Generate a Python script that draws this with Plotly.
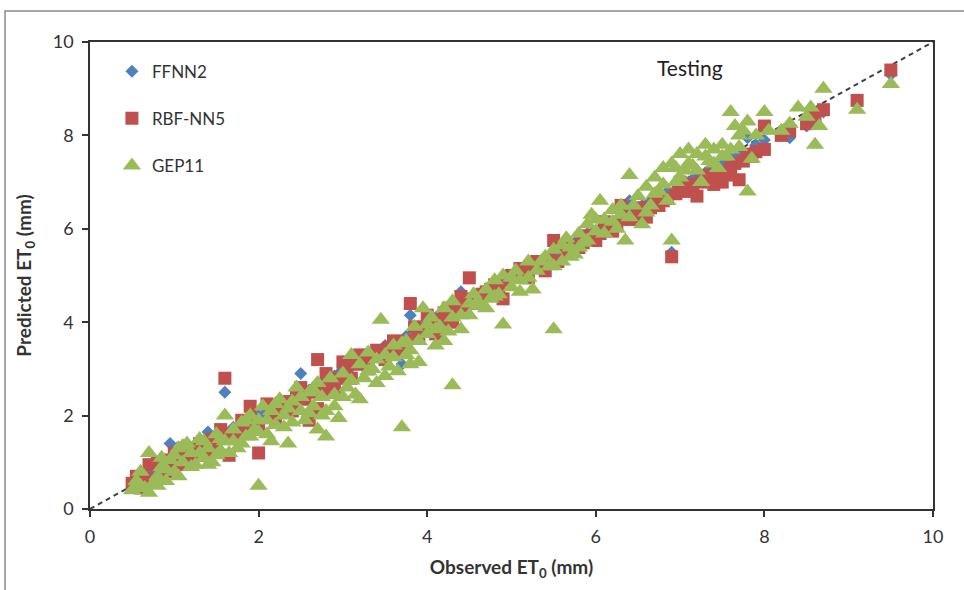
import plotly.graph_objects as go

# ---- data ----
ffnn2_obs = [0.5, 0.6, 0.7, 0.75, 0.8, 0.9, 0.95, 1.0, 1.1, 1.2, 1.3, 1.4, 1.5, 1.6, 1.7, 1.8, 1.9, 2.0,
             2.1, 2.2, 2.3, 2.4, 2.5, 2.6, 2.7, 2.8, 2.9, 3.0, 3.1, 3.2, 3.3, 3.4, 3.5, 3.6, 3.7, 3.75,
             3.8, 3.9, 4.0, 4.1, 4.2, 4.3, 4.4, 4.5, 4.6, 4.7, 4.8, 4.9, 5.0, 5.1, 5.2, 5.3, 5.4, 5.5,
             5.6, 5.7, 5.8, 5.9, 6.0, 6.1, 6.2, 6.3, 6.4, 6.5, 6.6, 6.7, 6.8, 6.9, 7.0, 7.1, 7.2, 7.3,
             7.4, 7.5, 7.6, 7.7, 7.8, 7.9, 8.0, 8.2, 8.3, 8.5, 8.6, 8.7, 9.1, 9.5,
             0.65, 0.85, 1.05, 1.15, 1.25, 1.35, 1.45, 1.55, 1.65, 1.75, 1.85, 1.95, 2.05, 2.15, 2.25,
             2.35, 2.45, 2.55, 2.65, 2.75, 2.85, 2.95, 3.05, 3.15, 3.25, 3.35, 3.45, 3.55, 3.65, 3.85,
             3.95, 4.05, 4.15, 4.25, 4.35, 4.45, 4.55, 4.65, 4.75, 4.85, 4.95, 5.05, 5.15, 5.25, 5.35,
             5.45, 5.55, 5.65, 5.75, 5.85, 5.95, 6.05, 6.15, 6.25, 6.35, 6.45, 6.55, 6.65, 6.75, 6.85,
             6.95, 7.05, 7.15, 7.25, 7.35, 7.45, 7.55, 7.65, 7.75]
ffnn2_pred = [0.55, 0.6, 0.8, 0.7, 0.9, 1.0, 1.4, 1.1, 1.2, 1.3, 1.25, 1.65, 1.5, 2.5, 1.75, 1.8, 1.9, 2.0,
              2.05, 2.2, 2.3, 2.35, 2.9, 2.55, 2.7, 2.75, 2.85, 3.0, 3.1, 3.15, 3.3, 3.35, 3.5, 3.55, 3.1, 3.7,
              4.15, 3.9, 3.95, 4.1, 4.15, 4.4, 4.65, 4.5, 4.55, 4.7, 4.75, 4.9, 5.0, 5.05, 5.2, 5.25, 5.35, 5.45,
              5.55, 5.7, 5.75, 5.9, 5.85, 6.0, 6.1, 6.25, 6.6, 6.4, 6.5, 6.6, 6.7, 5.5, 6.9, 7.0, 7.1, 7.2,
              7.3, 7.35, 7.5, 7.6, 7.95, 7.8, 7.9, 8.05, 7.95, 8.2, 8.3, 8.5, 8.7, 9.3,
              0.7, 0.85, 1.1, 1.15, 1.2, 1.35, 1.4, 1.55, 1.6, 1.7, 1.85, 1.95, 2.0, 2.1, 2.2,
              2.3, 2.4, 2.5, 2.6, 2.7, 2.8, 2.9, 3.0, 3.1, 3.2, 3.3, 3.4, 3.5, 3.6, 3.8,
              3.9, 4.0, 4.1, 4.2, 4.3, 4.4, 4.5, 4.6, 4.7, 4.8, 4.9, 5.0, 5.1, 5.2, 5.3,
              5.4, 5.5, 5.6, 5.7, 5.8, 5.9, 6.0, 6.1, 6.2, 6.3, 6.4, 6.5, 6.6, 6.7, 6.8,
              6.85, 7.0, 7.05, 7.15, 7.25, 7.35, 7.45, 7.5, 7.6]

rbf_obs = [0.5, 0.6, 0.7, 0.75, 0.8, 0.9, 1.0, 1.05, 1.1, 1.2, 1.3, 1.4, 1.5, 1.55, 1.6, 1.65, 1.7, 1.8,
           1.9, 2.0, 2.0, 2.1, 2.2, 2.3, 2.4, 2.5, 2.55, 2.6, 2.7, 2.7, 2.8, 2.85, 2.9, 3.0, 3.1, 3.2,
           3.3, 3.4, 3.5, 3.6, 3.7, 3.8, 3.85, 3.9, 4.0, 4.1, 4.2, 4.3, 4.4, 4.5, 4.6, 4.7, 4.8, 4.9,
           5.0, 5.1, 5.2, 5.3, 5.4, 5.5, 5.55, 5.6, 5.7, 5.8, 5.9, 6.0, 6.1, 6.2, 6.3, 6.4, 6.5, 6.6,
           6.7, 6.8, 6.9, 6.95, 7.0, 7.1, 7.2, 7.3, 7.4, 7.5, 7.6, 7.7, 7.8, 7.9, 8.0, 8.0, 8.2, 8.3,
           8.5, 8.6, 8.7, 9.1, 9.5,
           0.55, 0.65, 0.85, 0.95, 1.15, 1.25, 1.35, 1.45, 1.75, 1.85, 1.95, 2.15, 2.25, 2.35, 2.45,
           2.65, 2.75, 2.95, 3.05, 3.15, 3.25, 3.35, 3.45, 3.55, 3.65, 3.75, 3.95, 4.05, 4.15, 4.25,
           4.35, 4.45, 4.55, 4.65, 4.75, 4.85, 4.95, 5.05, 5.15, 5.25, 5.35, 5.45, 5.65, 5.75, 5.85,
           5.95, 6.05, 6.15, 6.25, 6.35, 6.45, 6.55, 6.65, 6.75, 6.85, 7.05, 7.15, 7.25, 7.35, 7.45,
           7.55, 7.65, 7.75, 7.85]
rbf_pred = [0.55, 0.45, 0.95, 0.65, 1.0, 0.8, 1.2, 0.95, 1.3, 1.1, 1.4, 1.2, 1.35, 1.7, 2.8, 1.15, 1.6, 1.9,
            2.2, 1.2, 1.75, 2.25, 1.9, 2.3, 2.1, 2.6, 2.35, 1.9, 3.2, 2.15, 2.9, 2.5, 2.6, 3.15, 2.8, 3.3,
            3.0, 3.4, 3.2, 3.6, 3.35, 4.4, 3.9, 3.7, 4.15, 3.75, 4.2, 4.0, 4.55, 4.95, 4.4, 4.65, 4.8, 4.5,
            5.0, 5.15, 4.95, 5.3, 5.1, 5.75, 5.3, 5.6, 5.55, 5.6, 5.85, 5.75, 6.15, 5.95, 6.5, 6.2, 6.3, 6.25,
            6.55, 6.6, 5.4, 6.75, 7.0, 6.8, 6.7, 7.1, 6.95, 7.0, 7.3, 7.05, 7.6, 7.65, 7.7, 8.2, 8.0, 8.1,
            8.25, 8.4, 8.55, 8.75, 9.4,
            0.7, 0.6, 0.75, 1.05, 1.05, 1.3, 1.15, 1.5, 1.55, 1.7, 1.9, 2.05, 2.1, 2.25, 2.4,
            2.5, 2.65, 2.8, 2.95, 3.1, 3.15, 3.3, 3.3, 3.45, 3.5, 3.6, 3.85, 3.95, 4.05, 4.3,
            4.25, 4.35, 4.5, 4.6, 4.7, 4.75, 4.9, 5.0, 5.05, 5.2, 5.2, 5.35, 5.5, 5.65, 5.7,
            5.85, 5.9, 6.05, 6.1, 6.25, 6.25, 6.45, 6.45, 6.5, 6.65, 6.85, 6.95, 7.0, 7.15, 7.2,
            7.15, 7.4, 7.45, 7.55]

gep_obs = [0.5, 0.55, 0.6, 0.7, 0.7, 0.75, 0.8, 0.85, 0.9, 0.95, 1.0, 1.05, 1.1, 1.15, 1.2, 1.25, 1.3, 1.35,
           1.4, 1.45, 1.5, 1.55, 1.6, 1.6, 1.7, 1.75, 1.8, 1.85, 1.9, 1.95, 2.0, 2.0, 2.05, 2.1, 2.15, 2.2,
           2.25, 2.3, 2.35, 2.4, 2.45, 2.5, 2.55, 2.6, 2.65, 2.7, 2.7, 2.75, 2.8, 2.8, 2.85, 2.9, 2.95, 3.0,
           3.05, 3.1, 3.15, 3.2, 3.25, 3.3, 3.35, 3.4, 3.45, 3.5, 3.55, 3.6, 3.65, 3.7, 3.7, 3.75, 3.8, 3.85,
           3.9, 3.95, 4.0, 4.05, 4.1, 4.15, 4.2, 4.25, 4.3, 4.3, 4.4, 4.5, 4.55, 4.6, 4.7, 4.75, 4.8, 4.85,
           4.9, 4.9, 5.0, 5.05, 5.1, 5.2, 5.25, 5.3, 5.4, 5.45, 5.5, 5.5, 5.6, 5.65, 5.7, 5.75, 5.8, 5.85,
           5.9, 5.95, 6.0, 6.05, 6.1, 6.2, 6.25, 6.3, 6.35, 6.4, 6.4, 6.5, 6.55, 6.6, 6.65, 6.7, 6.75, 6.8,
           6.85, 6.9, 6.9, 6.95, 7.0, 7.05, 7.1, 7.15, 7.2, 7.25, 7.3, 7.35, 7.4, 7.45, 7.5, 7.55, 7.6, 7.65,
           7.7, 7.75, 7.8, 7.8, 7.85, 8.0, 8.05, 8.2, 8.3, 8.4, 8.5, 8.55, 8.6, 8.65, 8.7, 9.1, 9.5,
           0.6, 0.65, 0.8, 0.85, 0.9, 1.0, 1.05, 1.1, 1.2, 1.3, 1.35, 1.4, 1.5, 1.55, 1.65, 1.7, 1.8, 1.85,
           1.9, 2.0, 2.1, 2.15, 2.2, 2.3, 2.35, 2.4, 2.5, 2.6, 2.65, 2.75, 2.9, 3.0, 3.1, 3.2, 3.3, 3.4,
           3.5, 3.6, 3.75, 3.8, 3.9, 4.0, 4.1, 4.2, 4.3, 4.4, 4.5, 4.6, 4.7, 4.8, 5.0, 5.1, 5.2, 5.35,
           5.5, 5.6, 5.7, 5.8, 5.9, 6.0, 6.1, 6.2, 6.3, 6.45, 6.6, 6.7, 6.8, 6.95, 7.0, 7.1, 7.2, 7.3,
           7.4, 7.5, 7.6, 7.7, 7.9]
gep_pred = [0.4, 0.6, 0.5, 0.35, 1.2, 0.55, 0.7, 0.9, 0.6, 1.05, 0.8, 1.3, 1.0, 1.4, 1.2, 0.95, 1.5, 1.1,
            1.3, 1.0, 1.6, 1.25, 2.0, 1.45, 1.7, 1.3, 1.85, 1.55, 2.0, 1.7, 0.5, 1.9, 2.2, 1.6, 2.1, 1.8,
            2.35, 2.0, 1.4, 2.3, 2.6, 2.1, 1.9, 2.5, 2.2, 1.7, 2.7, 2.4, 1.55, 2.1, 2.8, 2.45, 1.95, 2.9,
            2.6, 3.3, 2.45, 3.1, 2.8, 3.35, 3.0, 2.7, 4.05, 3.3, 3.05, 3.5, 2.95, 1.75, 3.55, 3.3, 3.1, 3.9,
            3.6, 4.3, 3.75, 4.1, 3.5, 3.9, 4.3, 3.8, 2.65, 4.45, 4.15, 4.4, 4.6, 4.35, 4.7, 4.5, 4.9, 4.6,
            3.95, 5.0, 4.75, 5.1, 4.9, 5.3, 4.7, 5.1, 5.4, 5.2, 3.85, 5.55, 5.3, 5.8, 5.6, 5.45, 5.9, 5.7,
            6.1, 6.3, 5.95, 6.6, 6.2, 6.4, 6.0, 6.5, 5.75, 7.15, 6.25, 6.7, 6.1, 6.9, 6.5, 7.1, 6.8, 7.3,
            6.6, 5.75, 7.4, 7.0, 7.6, 7.25, 7.7, 7.35, 7.6, 7.0, 7.8, 7.45, 7.7, 7.3, 7.8, 7.55, 8.5, 8.2,
            7.75, 8.1, 6.8, 8.3, 7.5, 8.5, 8.1, 8.1, 8.25, 8.6, 8.4, 8.6, 7.8, 8.2, 9.0, 8.55, 9.1,
            0.8, 0.45, 0.5, 1.1, 0.85, 1.15, 0.7, 1.35, 0.9, 1.2, 1.45, 0.95, 1.15, 1.5, 1.2, 1.45, 1.4, 1.9,
            1.55, 1.65, 1.9, 1.45, 2.25, 1.75, 2.15, 1.85, 2.4, 2.05, 2.55, 2.0, 2.2, 2.4, 2.75, 2.35, 2.95, 3.2,
            2.85, 3.25, 3.6, 3.4, 3.15, 3.95, 3.85, 3.6, 4.1, 3.85, 4.15, 4.45, 4.3, 4.55, 4.95, 4.65, 4.95, 5.3,
            5.2, 5.65, 5.4, 5.6, 5.75, 6.2, 5.9, 6.15, 6.3, 6.5, 6.35, 6.75, 6.95, 7.3, 7.1, 7.4, 7.25, 7.55,
            7.4, 7.55, 7.7, 8.0, 8.0]

line_xy = [0, 10]
x_ticks = [0, 2, 4, 6, 8, 10]
y_ticks = [0, 2, 4, 6, 8, 10]

FONT = "Lato, 'Open Sans', sans-serif"
TXT = "#333333"

fig = go.Figure()
fig.add_trace(go.Scatter(x=line_xy, y=line_xy, mode="lines", showlegend=False, hoverinfo="skip",
                         line=dict(color="#404040", width=2, dash="5px,4px")))
fig.add_trace(go.Scatter(x=ffnn2_obs, y=ffnn2_pred, mode="markers", name="FFNN2", legendgroup="a",
                         marker=dict(symbol="diamond", size=10, color="#4F81BD", line=dict(width=0))))
fig.add_trace(go.Scatter(x=rbf_obs, y=rbf_pred, mode="markers", name="RBF-NN5", legendgroup="b",
                         marker=dict(symbol="square", size=13, color="#C0504D", line=dict(width=0))))
fig.add_trace(go.Scatter(x=gep_obs, y=gep_pred, mode="markers", name="GEP11", legendgroup="c",
                         marker=dict(symbol="triangle-up", size=16, color="#9BBB59", line=dict(width=0))))

axis_common = dict(showgrid=False, zeroline=False, showline=True, mirror=True,
                   linecolor="#333333", linewidth=1.5, ticks="outside", ticklen=6,
                   tickcolor="#333333", tickwidth=1.5, ticklabelstandoff=5,
                   tickfont=dict(family=FONT, size=18, color=TXT))

fig.update_layout(
    width=964, height=590,
    margin=dict(l=90, r=31, t=42, b=81),
    paper_bgcolor="white", plot_bgcolor="white",
    font=dict(family=FONT, color=TXT),
    xaxis=dict(range=[0, 10], tickvals=x_ticks, ticktext=[str(v) for v in x_ticks],
               title=dict(text="<b>Observed ET<sub>0</sub> (mm)</b>", font=dict(family=FONT, size=19, color=TXT),
                          standoff=14),
               **axis_common),
    yaxis=dict(range=[0, 10], tickvals=y_ticks, ticktext=[str(v) for v in y_ticks],
               title=dict(text="<b>Predicted ET<sub>0</sub> (mm)</b>", font=dict(family=FONT, size=19, color=TXT),
                          standoff=16),
               **axis_common),
    legend=dict(x=0.026, y=0.975, xanchor="left", yanchor="top", bgcolor="rgba(0,0,0,0)",
                font=dict(family=FONT, size=17, color=TXT), tracegroupgap=22, itemwidth=30),
    annotations=[dict(text="Testing", x=0.712, y=0.946, xref="paper", yref="paper", showarrow=False,
                      xanchor="center", yanchor="middle",
                      font=dict(family=FONT, size=21, color="#222222"))],
    shapes=[dict(type="rect", xref="paper", yref="paper", x0=-0.1008, x1=1.2, y0=-0.3, y1=1.0664,
                 line=dict(color="#8a8a8a", width=1.5), fillcolor="rgba(0,0,0,0)", layer="below")],
)

fig.write_html("out.html")
